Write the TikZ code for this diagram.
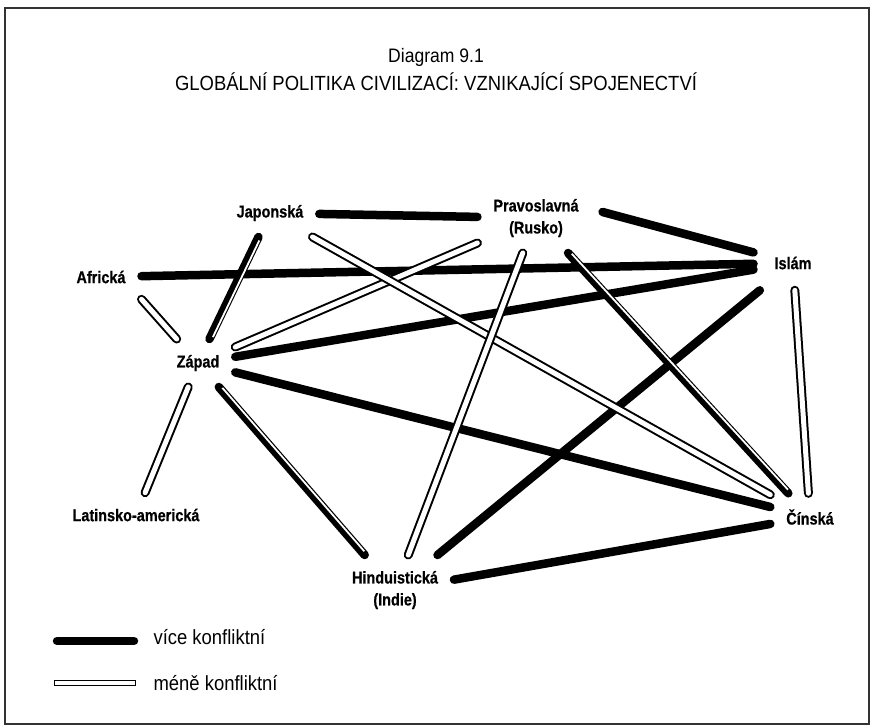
\documentclass[tikz,border=0pt]{standalone}
\usepackage{fontspec}
\setmainfont{Liberation Sans}
\newfontfamily\civfont[FakeStretch=0.85, BoldFeatures={FakeBold=0.6}]{Liberation Sans}
\newfontfamily\capfont[FakeStretch=0.9]{Liberation Sans}

\tikzset{
  civ/.style={font=\civfont\bfseries\fontsize{17}{22}\selectfont, align=center, inner sep=1pt, outer sep=15pt},
  hard/.style={line width=8.5pt, line cap=round},
  soft/.style={double, double distance=5pt, line width=2pt, line cap=round},
  stripe/.style={white, line width=1.8pt, shorten <=3pt, shorten >=3pt},
  caption/.style={font=\capfont\fontsize{20.5}{24}\selectfont},
}

\begin{document}
\begin{tikzpicture}[x=1pt, y=-1pt]
    \useasboundingbox (0,0) rectangle (872,727);
    \draw[line width=1.2pt, black!80](5,8) rectangle (869,724);
    % title
    \node[caption, font=\capfont\fontsize{19.5}{24}\selectfont](num) at (436,57){Diagram 9.1};
    \node[caption](title) at (436,82){GLOBÁLNÍ POLITIKA CIVILIZACÍ: VZNIKAJÍCÍ SPOJENECTVÍ};
    % civilizations
    \node[civ](jap) at (270,213){Japonská};
    \node[civ](rus) at (536,218){Pravoslavná\\(Rusko)};
    \node[civ, outer sep=20pt](isl) at (793,263){Islám};
    \node[civ](afr) at (101,277){Africká};
    \node[civ](zap) at (198,363){Západ};
    \node[civ](lat) at (136,515){Latinsko-americká};
    \node[civ](hin) at (395,590){Hinduistická\\(Indie)};
    \node[civ](cin) at (810,517){Čínská};
    % more conflict
    \draw[hard](jap)--(rus);
    \draw[hard]([shift={(8,-6)}]rus.east)--(isl);
    \draw[hard](afr)--(isl);
    \draw[hard](zap)--(isl);
    \draw[hard](zap)--(cin);
    \draw[hard](isl)--(hin);
    \draw[hard](hin)--(cin);
    \draw[hard](jap)--(zap);
    \draw[stripe, transform canvas={shift={(2.1,0.8)}}](jap)--(zap);
    \draw[hard](zap)--(hin);
    \draw[stripe, transform canvas={shift={(1.6,-1.4)}}](zap)--(hin);
    \draw[hard](rus)--(cin);
    \draw[stripe, transform canvas={shift={(1.7,-1.4)}}](rus)--(cin);
    % less conflict
    \draw[soft](afr.south east)--(zap);
    \draw[soft](zap)--(rus);
    \draw[soft](jap)--(cin);
    \draw[soft](zap)--(lat);
    \draw[soft](rus)--(hin);
    \draw[soft](isl)--(cin);
    % legend
    \coordinate(k1) at (57,641);
    \coordinate(k2) at (134,641);
    \coordinate(m1) at (57,683);
    \coordinate(m2) at (133,683);
    \draw[hard](k1)--(k2);
    \draw[soft, line width=1.3pt, double distance=3.5pt, line cap=rect](m1)--(m2);
    \node[caption, anchor=west](more) at (150,637){více konfliktní};
    \node[caption, anchor=west](less) at (150,683){méně konfliktní};
\end{tikzpicture}
\end{document}
